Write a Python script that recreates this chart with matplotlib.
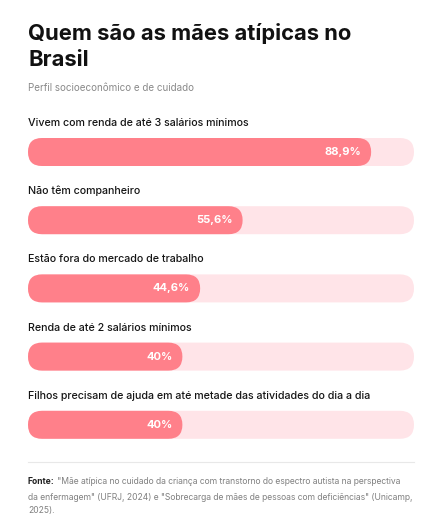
import matplotlib
matplotlib.use("Agg")
import matplotlib.pyplot as plt
from matplotlib.patches import FancyBboxPatch
from matplotlib.text import Annotation

categories = [
    "Vivem com renda de até 3 salários mínimos",
    "Não têm companheiro",
    "Estão fora do mercado de trabalho",
    "Renda de até 2 salários mínimos",
    "Filhos precisam de ajuda em até metade das atividades do dia a dia",
]
values = [88.9, 55.6, 44.6, 40.0, 40.0]
value_labels = ["88,9%", "55,6%", "44,6%", "40%", "40%"]

W, H = 441, 517
DPI = 100
fig = plt.figure(figsize=(W / DPI, H / DPI), dpi=DPI)
fig.patch.set_facecolor("white")

def fx(x):
    return x / W

def fy(y):
    return 1 - y / H

FONT = ["Inter", "DejaVu Sans"]
FILL = "#FF808A"
TRACK = "#FFE4E8"

# Title and subtitle
fig.text(fx(28), fy(33), "Quem são as mães atípicas no", fontsize=15.8,
         fontweight="bold", color="#111111", family=FONT, va="center", ha="left")
fig.text(fx(28), fy(60), "Brasil", fontsize=15.8,
         fontweight="bold", color="#111111", family=FONT, va="center", ha="left")
fig.text(fx(28), fy(88), "Perfil socioeconômico e de cuidado", fontsize=7.1,
         color="#8a8a8a", family=FONT, va="center", ha="left")

# Bars axes: x from 28 to 414 px; categories spaced 68.2 px, first bar centre at 152 px
x0, x1 = 28, 414
step = 68.2
c0 = 152
top_px = c0 - 0.5 * step
bot_px = c0 + 4.5 * step
ax = fig.add_axes([fx(x0), fy(bot_px), fx(x1 - x0), (bot_px - top_px) / H])
ax.set_xlim(0, 100)
ax.set_ylim(4.5, -0.5)
ax.axis("off")

bar_h_px = 28
bar_h = bar_h_px / step
px_per_x = (x1 - x0) / 100.0
rad = (bar_h_px / 2) / px_per_x
aspect = (1 / step) / (1 / px_per_x)

for i, (cat, v, lab) in enumerate(zip(categories, values, value_labels)):
    track = FancyBboxPatch((0, i - bar_h / 2), 100, bar_h,
                           boxstyle=f"round,pad=0,rounding_size={rad}",
                           mutation_aspect=aspect, facecolor=TRACK,
                           edgecolor="none", clip_on=False)
    ax.add_patch(track)
    fill = FancyBboxPatch((0, i - bar_h / 2), v, bar_h,
                          boxstyle=f"round,pad=0,rounding_size={rad}",
                          mutation_aspect=aspect, facecolor=FILL,
                          edgecolor="none", clip_on=False)
    ax.add_patch(fill)
    ax.text(v - 10 / px_per_x, i, lab, ha="right", va="center", color="white",
            fontsize=8, fontweight="bold", family=FONT)
    ax.text(0, i - 29 / step, cat, ha="left", va="center", color="#151515",
            fontsize=7.7, fontweight="medium", family=FONT)

# Separator
fig.add_artist(plt.Line2D([fx(28), fx(414)], [fy(462), fy(462)], color="#e8e8e8",
                          lw=0.8))

# Footnote
fs = 6.15
t1 = fig.text(fx(28), fy(482), "Fonte:", fontsize=fs, fontweight="bold",
              color="#222222", family=FONT, va="center", ha="left")
fn1 = Annotation(' "Mãe atípica no cuidado da criança com transtorno do espectro autista na perspectiva',
                 xy=(1, 0.5), xycoords=t1, va="center", ha="left", fontsize=fs,
                 color="#808080", family=FONT)
fig.add_artist(fn1)
fig.text(fx(28), fy(497), 'da enfermagem" (UFRJ, 2024) e "Sobrecarga de mães de pessoas com deficiências" (Unicamp,',
         fontsize=fs, color="#808080", family=FONT, va="center", ha="left")
fig.text(fx(28), fy(511), "2025).", fontsize=fs, color="#808080", family=FONT,
         va="center", ha="left")

fig.savefig("out.png", dpi=DPI, facecolor="white")
